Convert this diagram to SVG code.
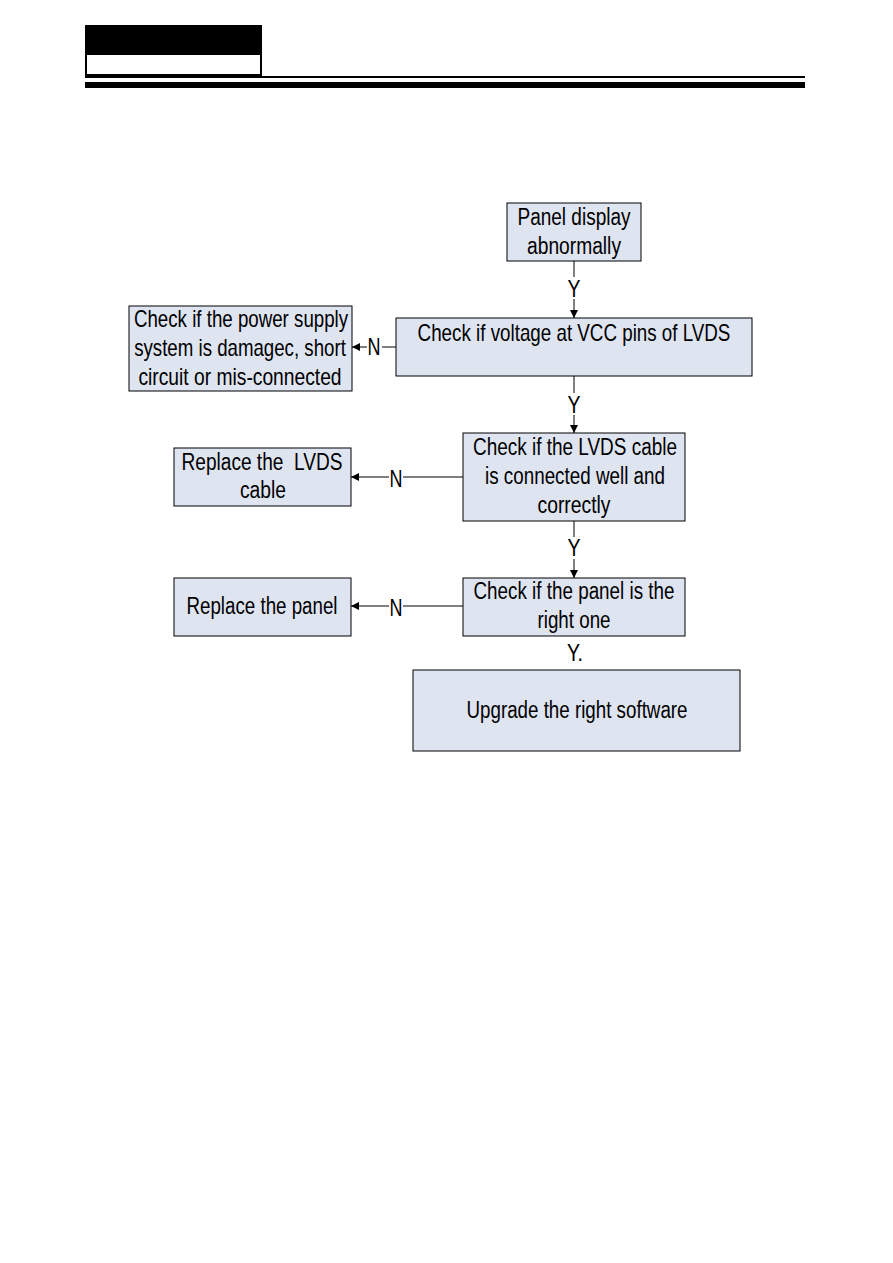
<svg xmlns="http://www.w3.org/2000/svg" width="893" height="1263" viewBox="0 0 893 1263">
<defs>
<marker id="arr" viewBox="0 0 10 10" refX="10" refY="5" markerWidth="8" markerHeight="8" markerUnits="userSpaceOnUse" orient="auto">
<path d="M0,0 L10,5 L0,10 z" fill="#000"/>
</marker>
<style>
.box{fill:#dfe4f1;stroke:#000;stroke-width:1}
.t{font-family:"Liberation Sans",Arial,sans-serif;font-size:23px;fill:#000;text-anchor:middle}
.ln{stroke:#000;stroke-width:1;fill:none}
</style>
</defs>
<rect width="893" height="1263" fill="#fff"/>
<g id="header">
<rect x="85" y="25" width="177" height="29" fill="#000"/>
<rect x="86" y="54" width="175" height="21" fill="#fff" stroke="#000" stroke-width="2"/>
<rect x="85" y="76" width="720" height="2" fill="#000"/>
<rect x="85" y="82" width="720" height="6" fill="#000"/>
</g>
<g id="connectors">
<line class="ln" x1="574" y1="261" x2="574" y2="277"/>
<line class="ln" x1="574" y1="299" x2="574" y2="318" marker-end="url(#arr)"/>
<text class="t" x="574" y="297" textLength="13" lengthAdjust="spacingAndGlyphs">Y</text>
<line class="ln" x1="396" y1="347" x2="382" y2="347"/>
<line class="ln" x1="367" y1="347" x2="352" y2="347" marker-end="url(#arr)"/>
<text class="t" x="374" y="355" textLength="13" lengthAdjust="spacingAndGlyphs">N</text>
<line class="ln" x1="574" y1="376" x2="574" y2="393"/>
<line class="ln" x1="574" y1="415" x2="574" y2="433" marker-end="url(#arr)"/>
<text class="t" x="574" y="413" textLength="13" lengthAdjust="spacingAndGlyphs">Y</text>
<line class="ln" x1="463" y1="477" x2="403" y2="477"/>
<line class="ln" x1="389" y1="477" x2="351" y2="477" marker-end="url(#arr)"/>
<text class="t" x="396" y="487" textLength="13" lengthAdjust="spacingAndGlyphs">N</text>
<line class="ln" x1="574" y1="521" x2="574" y2="537"/>
<line class="ln" x1="574" y1="559" x2="574" y2="578" marker-end="url(#arr)"/>
<text class="t" x="574" y="556" textLength="13" lengthAdjust="spacingAndGlyphs">Y</text>
<line class="ln" x1="463" y1="606" x2="403" y2="606"/>
<line class="ln" x1="389" y1="606" x2="351" y2="606" marker-end="url(#arr)"/>
<text class="t" x="396" y="616" textLength="13" lengthAdjust="spacingAndGlyphs">N</text>
<text class="t" x="575" y="661" textLength="16" lengthAdjust="spacingAndGlyphs">Y.</text>
</g>
<g id="n1">
<rect class="box" x="507" y="203" width="134" height="58"/>
<text class="t" x="574" y="225" textLength="113" lengthAdjust="spacingAndGlyphs">Panel display</text>
<text class="t" x="574" y="254" textLength="94" lengthAdjust="spacingAndGlyphs">abnormally</text>
</g>
<g id="n2">
<rect class="box" x="396" y="318" width="356" height="58"/>
<text class="t" transform="translate(574,341) scale(0.85,1)" x="0" y="0" textLength="368" lengthAdjust="spacingAndGlyphs">Check if voltage at VCC pins of LVDS</text>
</g>
<g id="n3">
<rect class="box" x="129" y="306" width="223" height="85"/>
<text class="t" transform="translate(241,327) scale(0.85,1)" x="0" y="0" textLength="252" lengthAdjust="spacingAndGlyphs">Check if the power supply</text>
<text class="t" transform="translate(240,356) scale(0.85,1)" x="0" y="0" textLength="249" lengthAdjust="spacingAndGlyphs">system is damagec, short</text>
<text class="t" transform="translate(240,385) scale(0.85,1)" x="0" y="0" textLength="239" lengthAdjust="spacingAndGlyphs">circuit or mis-connected</text>
</g>
<g id="n4">
<rect class="box" x="463" y="433" width="222" height="88"/>
<text class="t" x="575" y="455" textLength="204" lengthAdjust="spacingAndGlyphs">Check if the LVDS cable</text>
<text class="t" x="575" y="484" textLength="180" lengthAdjust="spacingAndGlyphs">is connected well and</text>
<text class="t" x="574" y="513" textLength="73" lengthAdjust="spacingAndGlyphs">correctly</text>
</g>
<g id="n5">
<rect class="box" x="174" y="448" width="177" height="58"/>
<text class="t" x="262" y="470" textLength="161" lengthAdjust="spacingAndGlyphs" xml:space="preserve">Replace the  LVDS</text>
<text class="t" x="263" y="498" textLength="46" lengthAdjust="spacingAndGlyphs">cable</text>
</g>
<g id="n6">
<rect class="box" x="463" y="578" width="222" height="58"/>
<text class="t" x="574" y="599" textLength="201" lengthAdjust="spacingAndGlyphs">Check if the panel is the</text>
<text class="t" x="574" y="628" textLength="73" lengthAdjust="spacingAndGlyphs">right one</text>
</g>
<g id="n7">
<rect class="box" x="174" y="578" width="177" height="58"/>
<text class="t" x="262" y="614" textLength="151" lengthAdjust="spacingAndGlyphs">Replace the panel</text>
</g>
<g id="n8">
<rect class="box" x="413" y="670" width="327" height="81"/>
<text class="t" x="577" y="718" textLength="221" lengthAdjust="spacingAndGlyphs">Upgrade the right software</text>
</g>
</svg>
